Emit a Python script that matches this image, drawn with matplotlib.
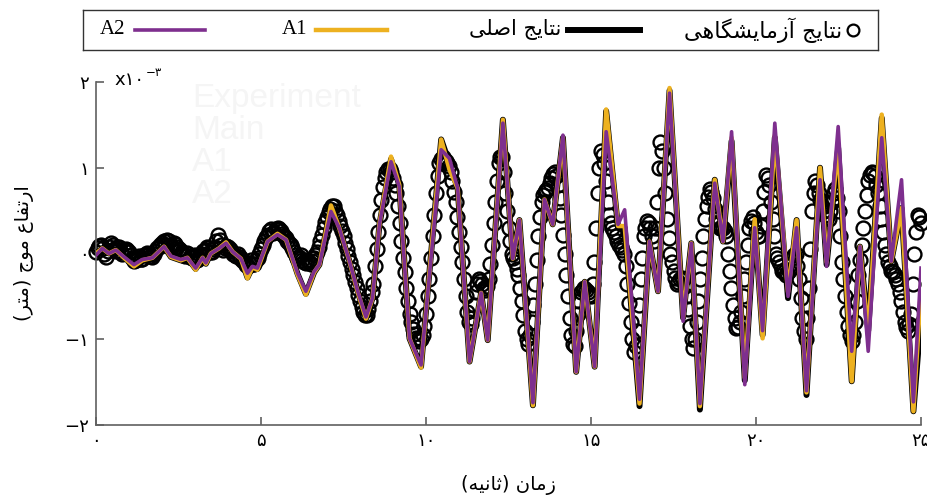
import numpy as np
import matplotlib
matplotlib.use("Agg")
import matplotlib.pyplot as plt

# -----------------------------
# 1. Datos (altura de ola en 1e-3 m)
# -----------------------------
# puntos clave de las curvas numericas (tiempo en s)
t_key = [0.00, 0.19, 0.39, 0.60, 0.85, 1.15, 1.40, 1.71, 2.06, 2.27,
         2.57, 2.77, 3.02, 3.23, 3.33, 3.48, 3.73, 3.94, 4.14, 4.39,
         4.59, 4.74, 4.89, 5.20, 5.50, 5.76, 6.11, 6.36, 6.61, 6.77,
         7.12, 7.37, 7.68, 7.93, 8.18, 8.38, 8.59, 8.94, 9.19, 9.50,
         9.85, 10.46, 10.71, 10.96, 11.32, 11.67, 11.87, 12.33, 12.63, 12.83,
         13.24, 13.59, 13.84, 14.15, 14.55, 14.81, 15.11, 15.46, 15.82, 16.02,
         16.47, 16.77, 17.03, 17.38, 17.79, 18.04, 18.30, 18.75, 19.00, 19.26,
         19.66, 19.96, 20.20, 20.57, 20.97, 21.23, 21.53, 21.94, 22.14, 22.49,
         22.90, 23.15, 23.40, 23.81, 24.10, 24.41, 24.77, 25.00]

main_y = [0.00, 0.06, 0.00, 0.04, -0.04, -0.14, -0.08, -0.05, 0.08, -0.04,
          -0.08, -0.05, -0.18, -0.05, -0.12, 0.00, 0.06, 0.12, 0.02, -0.06,
          -0.28, -0.16, -0.18, 0.14, 0.22, 0.16, -0.24, -0.47, -0.22, -0.13,
          0.55, 0.30, -0.09, -0.44, -0.76, -0.52, 0.34, 1.10, 0.80, -0.99,
          -1.32, 1.33, 1.05, 0.76, -1.26, -0.46, -1.01, 1.56, -0.06, 0.39,
          -1.77, 0.63, 0.34, 1.35, -1.38, -0.33, -1.32, 1.66, 0.30, 0.30,
          -1.78, 0.14, -0.44, 1.90, -0.75, 0.12, -1.82, 0.86, 0.14, 1.31,
          -1.48, 0.37, -0.95, 1.35, -0.52, 0.39, -1.65, 1.00, -0.13, 1.23,
          -1.49, 0.08, -0.90, 1.58, -0.09, 0.53, -1.84, -0.73]

a1_y = [0.00, 0.06, 0.00, 0.04, -0.05, -0.15, -0.08, -0.05, 0.08, -0.04,
        -0.08, -0.05, -0.19, -0.05, -0.12, 0.00, 0.06, 0.13, 0.02, -0.06,
        -0.29, -0.16, -0.19, 0.14, 0.23, 0.16, -0.25, -0.48, -0.22, -0.13,
        0.56, 0.30, -0.09, -0.45, -0.76, -0.52, 0.35, 1.13, 0.80, -0.99,
        -1.33, 1.33, 0.98, 0.76, -1.26, -0.46, -1.01, 1.56, -0.06, 0.39,
        -1.77, 0.63, 0.34, 1.35, -1.38, -0.33, -1.32, 1.68, 0.32, 0.32,
        -1.75, 0.14, -0.44, 1.93, -0.75, 0.12, -1.78, 0.86, 0.14, 1.35,
        -1.45, 0.40, -0.99, 1.38, -0.45, 0.39, -1.62, 1.00, -0.10, 1.26,
        -1.49, 0.08, -0.95, 1.62, -0.09, 0.53, -1.84, -0.40]

a2_y = [-0.02, 0.06, 0.00, 0.04, -0.04, -0.13, -0.07, -0.05, 0.08, -0.03,
        -0.07, -0.05, -0.17, -0.05, -0.11, 0.00, 0.06, 0.12, 0.02, -0.06,
        -0.23, -0.15, -0.17, 0.14, 0.22, 0.16, -0.23, -0.44, -0.21, -0.13,
        0.49, 0.30, -0.09, -0.44, -0.74, -0.52, 0.34, 1.07, 0.78, -0.99,
        -1.30, 1.21, 1.11, 0.76, -1.26, -0.46, -1.01, 1.52, -0.06, 0.39,
        -1.74, 0.63, 0.34, 1.38, -1.38, -0.33, -1.32, 1.42, 0.34, 0.51,
        -1.70, 0.14, -0.44, 1.87, -0.79, 0.12, -1.75, 0.82, 0.14, 1.42,
        -1.53, 0.30, -0.90, 1.52, -0.50, 0.30, -1.60, 0.86, -0.15, 1.48,
        -1.14, 0.08, -1.14, 1.35, -0.09, 0.86, -1.73, -0.17]

# resultados de laboratorio, una muestra cada 0.05 s (una fila = 1 s)
exp_t = np.round(np.arange(501) * 0.05, 2)
exp_y = [
    0.02, 0.06, 0.09, 0.10, 0.06, 0.00, -0.04, 0.03, 0.08, 0.12, 0.10, 0.05, 0.03, 0.08, 0.07, 0.02, 0.00, 0.04, 0.05, 0.04,
    0.02, -0.02, -0.05, -0.09, -0.08, -0.05, -0.03, -0.06, -0.06, -0.02, -0.02, 0.01, 0.00, -0.03, -0.04, 0.00, 0.03, 0.06, 0.08, 0.10,
    0.12, 0.14, 0.10, 0.16, 0.14, 0.10, 0.08, 0.12, 0.11, 0.07, 0.05, 0.04, 0.02, -0.02, -0.03, 0.01, 0.00, -0.04, -0.05, -0.03,
    -0.02, -0.07, -0.06, -0.02, 0.00, 0.03, 0.04, 0.07, 0.06, 0.02, 0.02, 0.05, 0.08, 0.15, 0.22, 0.16, 0.10, 0.04, 0.06, 0.09,
    0.08, 0.05, 0.03, 0.00, -0.02, -0.03, 0.00, -0.04, -0.06, -0.09, -0.10, -0.13, -0.14, -0.11, -0.08, -0.12, -0.12, -0.08, -0.05, 0.00,
    0.05, 0.10, 0.15, 0.19, 0.22, 0.26, 0.28, 0.24, 0.25, 0.29, 0.30, 0.28, 0.26, 0.23, 0.20, 0.18, 0.15, 0.12, 0.10, 0.06,
    0.02, -0.02, -0.05, -0.04, -0.02, -0.07, -0.10, -0.11, -0.08, -0.10, -0.12, -0.09, -0.05, -0.02, 0.02, 0.08, 0.15, 0.22, 0.30, 0.37,
    0.42, 0.48, 0.52, 0.55, 0.55, 0.50, 0.45, 0.38, 0.32, 0.26, 0.20, 0.12, 0.05, -0.03, -0.10, -0.18, -0.25, -0.33, -0.40, -0.48,
    -0.55, -0.62, -0.68, -0.72, -0.72, -0.65, -0.55, -0.45, -0.35, -0.15, 0.05, 0.25, 0.45, 0.62, 0.78, 0.88, 0.95, 0.98, 0.98, 0.95,
    0.88, 0.80, 0.70, 0.55, 0.35, 0.15, -0.05, -0.22, -0.40, -0.55, -0.70, -0.80, -0.88, -0.94, -0.98, -1.00, -1.02, -1.00, -0.95, -0.85,
    -0.70, -0.50, -0.30, -0.05, 0.20, 0.45, 0.70, 0.90, 1.05, 1.10, 1.12, 1.10, 1.08, 1.05, 1.02, 0.95, 0.85, 0.72, 0.60, 0.42,
    0.25, 0.08, -0.10, -0.30, -0.50, -0.68, -0.80, -0.82, -0.75, -0.60, -0.45, -0.36, -0.30, -0.32, -0.35, -0.40, -0.42, -0.38, -0.30, -0.12,
    0.10, 0.35, 0.60, 0.85, 1.05, 1.12, 1.12, 0.95, 0.70, 0.50, 0.30, 0.15, 0.00, -0.05, -0.10, -0.18, -0.25, -0.40, -0.55, -0.72,
    -0.90, -1.00, -1.05, -0.95, -0.80, -0.60, -0.35, -0.08, 0.20, 0.42, 0.60, 0.68, 0.72, 0.74, 0.76, 0.82, 0.88, 0.93, 0.95, 0.90,
    0.80, 0.65, 0.45, 0.22, 0.00, -0.25, -0.50, -0.75, -0.95, -1.05, -1.08, -0.90, -0.70, -0.55, -0.45, -0.42, -0.40, -0.42, -0.45, -0.48,
    -0.50, -0.35, -0.10, 0.30, 0.70, 1.00, 1.20, 1.15, 1.05, 0.85, 0.60, 0.45, 0.35, 0.30, 0.25, 0.20, 0.15, 0.10, 0.08, 0.04,
    0.00, -0.15, -0.35, -0.58, -0.80, -1.00, -1.15, -1.08, -0.90, -0.60, -0.30, -0.05, 0.20, 0.30, 0.38, 0.35, 0.30, 0.20, 0.15, 0.30,
    0.60, 1.00, 1.30, 1.20, 1.00, 0.70, 0.40, 0.18, 0.00, -0.10, -0.20, -0.28, -0.35, -0.33, -0.30, -0.28, -0.30, -0.38, -0.50, -0.65,
    -0.85, -1.00, -1.10, -1.00, -0.80, -0.55, -0.30, -0.05, 0.20, 0.40, 0.55, 0.66, 0.75, 0.72, 0.65, 0.52, 0.40, 0.34, 0.30, 0.30,
    0.30, 0.26, 0.20, 0.00, -0.20, -0.40, -0.60, -0.75, -0.87, -0.86, -0.80, -0.68, -0.50, -0.30, -0.10, 0.10, 0.30, 0.38, 0.42, 0.35,
    0.25, 0.20, 0.20, 0.32, 0.50, 0.72, 0.92, 0.88, 0.80, 0.60, 0.40, 0.20, 0.00, -0.05, -0.10, -0.15, -0.20, -0.22, -0.25, -0.23,
    -0.20, -0.12, -0.05, -0.02, 0.00, -0.15, -0.30, -0.52, -0.75, -0.90, -1.00, -0.75, -0.40, 0.05, 0.50, 0.70, 0.84, 0.80, 0.70, 0.62,
    0.55, 0.50, 0.45, 0.42, 0.40, 0.50, 0.60, 0.70, 0.75, 0.65, 0.50, 0.20, -0.10, -0.30, -0.50, -0.68, -0.85, -0.95, -1.02, -0.95,
    -0.80, -0.55, -0.25, -0.08, 0.10, 0.30, 0.50, 0.68, 0.85, 0.92, 0.95, 0.94, 0.90, 0.80, 0.70, 0.55, 0.40, 0.25, 0.10, 0.00,
    -0.10, -0.15, -0.20, -0.22, -0.25, -0.30, -0.35, -0.45, -0.55, -0.68, -0.80, -0.86, -0.90, -0.82, -0.70, -0.35, 0.00, 0.25, 0.45, 0.42,
    0.35]

x_ticks = [0, 5, 10, 15, 20, 25]
x_ticklabels = ["\u06f0", "\u06f5", "\u06f1\u06f0", "\u06f1\u06f5", "\u06f2\u06f0", "\u06f2\u06f5"]
y_ticks = [-2, -1, 0, 1, 2]
y_ticklabels = ["\u2212\u06f2", "\u2212\u06f1", "\u06f0", "\u06f1", "\u06f2"]

# textos persas ya en formas de presentacion y orden visual
lbl_exp = ("\ufbfd\ufeeb\ufe8e\ufb95\ufeb8\ufbfe\ufe8e\ufee3\ufeaf\ufe81"
           " \ufe9e\ufbfe\ufe8e\ufe98\ufee7")                 # نتایج آزمایشگاهی
lbl_main = "\ufbfd\ufee0\ufebb\ufe8d \ufe9e\ufbfe\ufe8e\ufe98\ufee7"  # نتایج اصلی
lbl_x = "(\ufeea\ufbff\ufee7\ufe8e\ufe9b) \ufee5\ufe8e\ufee3\ufeaf"    # زمان (ثانیه)
lbl_y = ("(\ufeae\ufe98\ufee3) \ufe9d\ufeee\ufee3"
         " \ufec9\ufe8e\ufed4\ufe97\ufead\ufe8d")             # ارتفاع موج (متر)

c_main = "#000000"
c_a1 = "#EDB120"
c_a2 = "#7E2F8E"
gris = "#606060"
lw_main, lw_a1, lw_a2 = 4.3, 3.2, 2.6

# -----------------------------
# 2. Figura
# -----------------------------
W, H = 927, 497
fig = plt.figure(figsize=(W / 100, H / 100), dpi=100)
ax = fig.add_axes([96 / W, 1 - 425 / H, (921 - 96) / W, (425 - 82) / H])

# texto fantasma casi blanco
for i, s in enumerate(["Experiment", "Main", "A1", "A2"]):
    fig.text(192 / W, 1 - (98 + 32.3 * i) / H, s, fontsize=24, color="#f5f5f5",
             family="Liberation Sans", va="center", ha="left")

ax.plot(exp_t, exp_y, linestyle="none", marker="o", markersize=10,
        markerfacecolor="none", markeredgecolor="black", markeredgewidth=1.7,
        clip_on=False, zorder=2)
ax.plot(t_key, main_y, color=c_main, lw=lw_main, solid_joinstyle="round", zorder=3)
ax.plot(t_key, a1_y, color=c_a1, lw=lw_a1, solid_joinstyle="round", zorder=4)
ax.plot(t_key, a2_y, color=c_a2, lw=lw_a2, solid_joinstyle="round", zorder=5)

ax.set_xlim(0, 25)
ax.set_ylim(-2, 2)
ax.set_facecolor("none")
for s in ["top", "right"]:
    ax.spines[s].set_visible(False)
for s in ["left", "bottom"]:
    ax.spines[s].set_color(gris)
    ax.spines[s].set_linewidth(1.2)

ax.set_xticks(x_ticks)
ax.set_xticklabels(x_ticklabels, family="DejaVu Sans", fontsize=13)
ax.set_yticks(y_ticks)
ax.set_yticklabels(y_ticklabels, family="DejaVu Sans", fontsize=13)
ax.tick_params(direction="in", length=6, width=1.2, color=gris, pad=5)

ax.set_xlabel(lbl_x, family="DejaVu Sans", fontsize=14, labelpad=18)
ax.set_ylabel(lbl_y, family="DejaVu Sans", fontsize=14, labelpad=22)

# factor de escala x10^-3
fig.text(114 / W, 1 - 80 / H, "x\u06f1\u06f0", family="DejaVu Sans",
         fontsize=13, va="center", ha="left")
fig.text(146 / W, 1 - 72 / H, "\u2212\u06f3", family="DejaVu Sans",
         fontsize=8.5, va="center", ha="left")

# -----------------------------
# 3. Leyenda (de derecha a izquierda)
# -----------------------------
lax = fig.add_axes([83 / W, 1 - 50 / H, (878 - 83) / W, 40 / H])
lax.set_xlim(83, 878)
lax.set_ylim(50, 10)
lax.set_xticks([])
lax.set_yticks([])
for s in lax.spines.values():
    s.set_color("#333333")
    s.set_linewidth(1.0)

ly = 30
lax.text(100, ly, "A2", family="Liberation Serif", fontsize=15, va="center", ha="left")
lax.plot([135, 205], [ly, ly], color=c_a2, lw=lw_a2)
lax.text(282, ly, "A1", family="Liberation Serif", fontsize=15, va="center", ha="left")
lax.plot([316, 387], [ly, ly], color=c_a1, lw=lw_a1)
lax.text(561, ly, lbl_main, family="DejaVu Sans", fontsize=15, va="center", ha="right")
lax.plot([568, 640], [ly, ly], color=c_main, lw=lw_main)
lax.text(842, ly, lbl_exp, family="DejaVu Sans", fontsize=16, va="center", ha="right")
lax.plot([853], [ly], linestyle="none", marker="o", markersize=8.5,
         markerfacecolor="none", markeredgecolor="black", markeredgewidth=1.6)

plt.savefig("out.png", dpi=100)
plt.close()
